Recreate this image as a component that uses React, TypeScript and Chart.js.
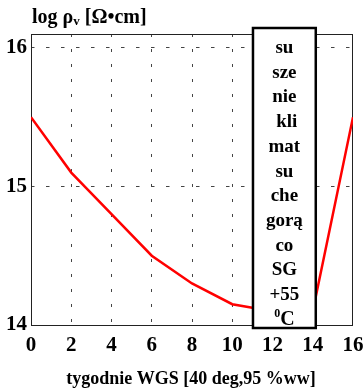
import { useEffect, useRef } from "react";
import { Chart, registerables } from "chart.js";

Chart.register(...registerables);

const weeks = [0, 2, 4, 6, 8, 10, 12, 14, 16];
const logRho = [15.5, 15.1, 14.8, 14.5, 14.3, 14.15, 14.1, 14.1, 15.5];
const xTickValues = [0, 2, 4, 6, 8, 10, 12, 14, 16];
const yTickValues = [14, 15, 16];
const boxLines = ["su", "sze", "nie", " kli", "mat", "su", "che", "gorą", "co", "SG", "+55"];
const boxLastSup = "0";
const boxLastMain = "C";
const boxRange = [11.03, 14.15];
const yTitleParts = ["log ρ", "v", " [Ω•cm]"];
const xTitle = "tygodnie WGS [40 deg,95 %ww]";

const FONT = "'Liberation Serif', 'Times New Roman', serif";

const decorPlugin = {
  id: "decor",
  beforeDatasetsDraw(chart: any) {
    const { ctx, chartArea } = chart;
    ctx.save();
    ctx.strokeStyle = "#222";
    ctx.lineWidth = 1;
    ctx.strokeRect(chartArea.left + 0.5, chartArea.top + 0.5, chartArea.right - chartArea.left - 1, chartArea.bottom - chartArea.top);
    ctx.restore();
  },
  afterDraw(chart: any) {
    const { ctx, chartArea } = chart;
    const xs = chart.scales.x;
    ctx.save();
    const left = xs.getPixelForValue(boxRange[0]);
    const right = xs.getPixelForValue(boxRange[1]);
    const top = chartArea.top - 6;
    const bottom = chartArea.bottom + 3;
    ctx.fillStyle = "#fff";
    ctx.fillRect(left, top, right - left, bottom - top);
    ctx.strokeStyle = "#000";
    ctx.lineWidth = 2.5;
    ctx.strokeRect(left, top, right - left, bottom - top);
    const cx = (left + right) / 2;
    ctx.fillStyle = "#000";
    ctx.textAlign = "center";
    ctx.textBaseline = "alphabetic";
    ctx.font = `bold 19px ${FONT}`;
    const step = 24.7;
    boxLines.forEach((t, i) => {
      ctx.fillText(t, cx, top + 25 + i * step);
    });
    const lastY = top + 25 + boxLines.length * step;
    ctx.font = `bold 12px ${FONT}`;
    const supW = ctx.measureText(boxLastSup).width;
    ctx.font = `bold 20px ${FONT}`;
    const mainW = ctx.measureText(boxLastMain).width;
    const startX = cx - (supW + mainW) / 2;
    ctx.textAlign = "left";
    ctx.font = `bold 12px ${FONT}`;
    ctx.fillText(boxLastSup, startX, lastY - 8);
    ctx.font = `bold 20px ${FONT}`;
    ctx.fillText(boxLastMain, startX + supW, lastY);

    ctx.textAlign = "left";
    let x = chartArea.left + 1;
    const yb = 23;
    ctx.font = `bold 20px ${FONT}`;
    ctx.fillText(yTitleParts[0], x, yb);
    x += ctx.measureText(yTitleParts[0]).width;
    ctx.font = `bold 13px ${FONT}`;
    ctx.fillText(yTitleParts[1], x, yb + 2);
    x += ctx.measureText(yTitleParts[1]).width;
    ctx.font = `bold 20px ${FONT}`;
    ctx.fillText(yTitleParts[2], x, yb);

    ctx.textAlign = "center";
    ctx.font = `bold 18px ${FONT}`;
    ctx.fillText(xTitle, 191, 384);
    ctx.restore();
  },
};

export default function App() {
  const ref = useRef<HTMLCanvasElement>(null);
  useEffect(() => {
    const canvas = ref.current!;
    const chart = new Chart(canvas, {
      type: "line",
      data: {
        datasets: [
          {
            data: weeks.map((w, i) => ({ x: w, y: logRho[i] })),
            borderColor: "#ff0000",
            borderWidth: 2.5,
            pointRadius: 0,
            tension: 0,
            fill: false,
          },
        ],
      },
      options: {
        responsive: false,
        animation: false,
        layout: { padding: { top: 34, right: 10, left: 0, bottom: 0 } },
        plugins: { legend: { display: false }, tooltip: { enabled: false } },
        scales: {
          x: {
            type: "linear",
            min: 0,
            max: 16,
            afterBuildTicks: (s: any) => {
              s.ticks = xTickValues.map((v) => ({ value: v }));
            },
            afterFit: (s: any) => {
              s.height = 64;
              s.paddingLeft = 0;
              s.paddingRight = 0;
            },
            border: { display: false, dash: [3, 12] },
            grid: {
              color: (c: any) => (c.tick && (c.tick.value === 0 || c.tick.value === 16) ? "rgba(0,0,0,0)" : "#444"),
              lineWidth: 1,
              drawTicks: false,
            },
            ticks: {
              color: "#000",
              padding: 8,
              maxRotation: 0,
              autoSkip: false,
              font: { family: FONT, size: 21, weight: "bold" },
            },
          },
          y: {
            min: 14,
            max: 16.1,
            afterBuildTicks: (s: any) => {
              s.ticks = yTickValues.map((v) => ({ value: v }));
            },
            afterFit: (s: any) => {
              s.width = 31;
            },
            border: { display: false, dash: [3.5, 11.5] },
            grid: {
              color: (c: any) => (c.tick && c.tick.value === 14 ? "rgba(0,0,0,0)" : "#444"),
              lineWidth: 1,
              drawTicks: false,
            },
            ticks: {
              color: "#000",
              padding: 4,
              font: { family: FONT, size: 21, weight: "bold" },
            },
          },
        },
      },
      plugins: [decorPlugin],
    } as any);
    return () => chart.destroy();
  }, []);
  return (
    <div style={{ position: "absolute", left: 0, top: 0, width: 363, height: 389 }}>
      <canvas ref={ref} width={363} height={389} style={{ width: 363, height: 389, display: "block" }} />
    </div>
  );
}
